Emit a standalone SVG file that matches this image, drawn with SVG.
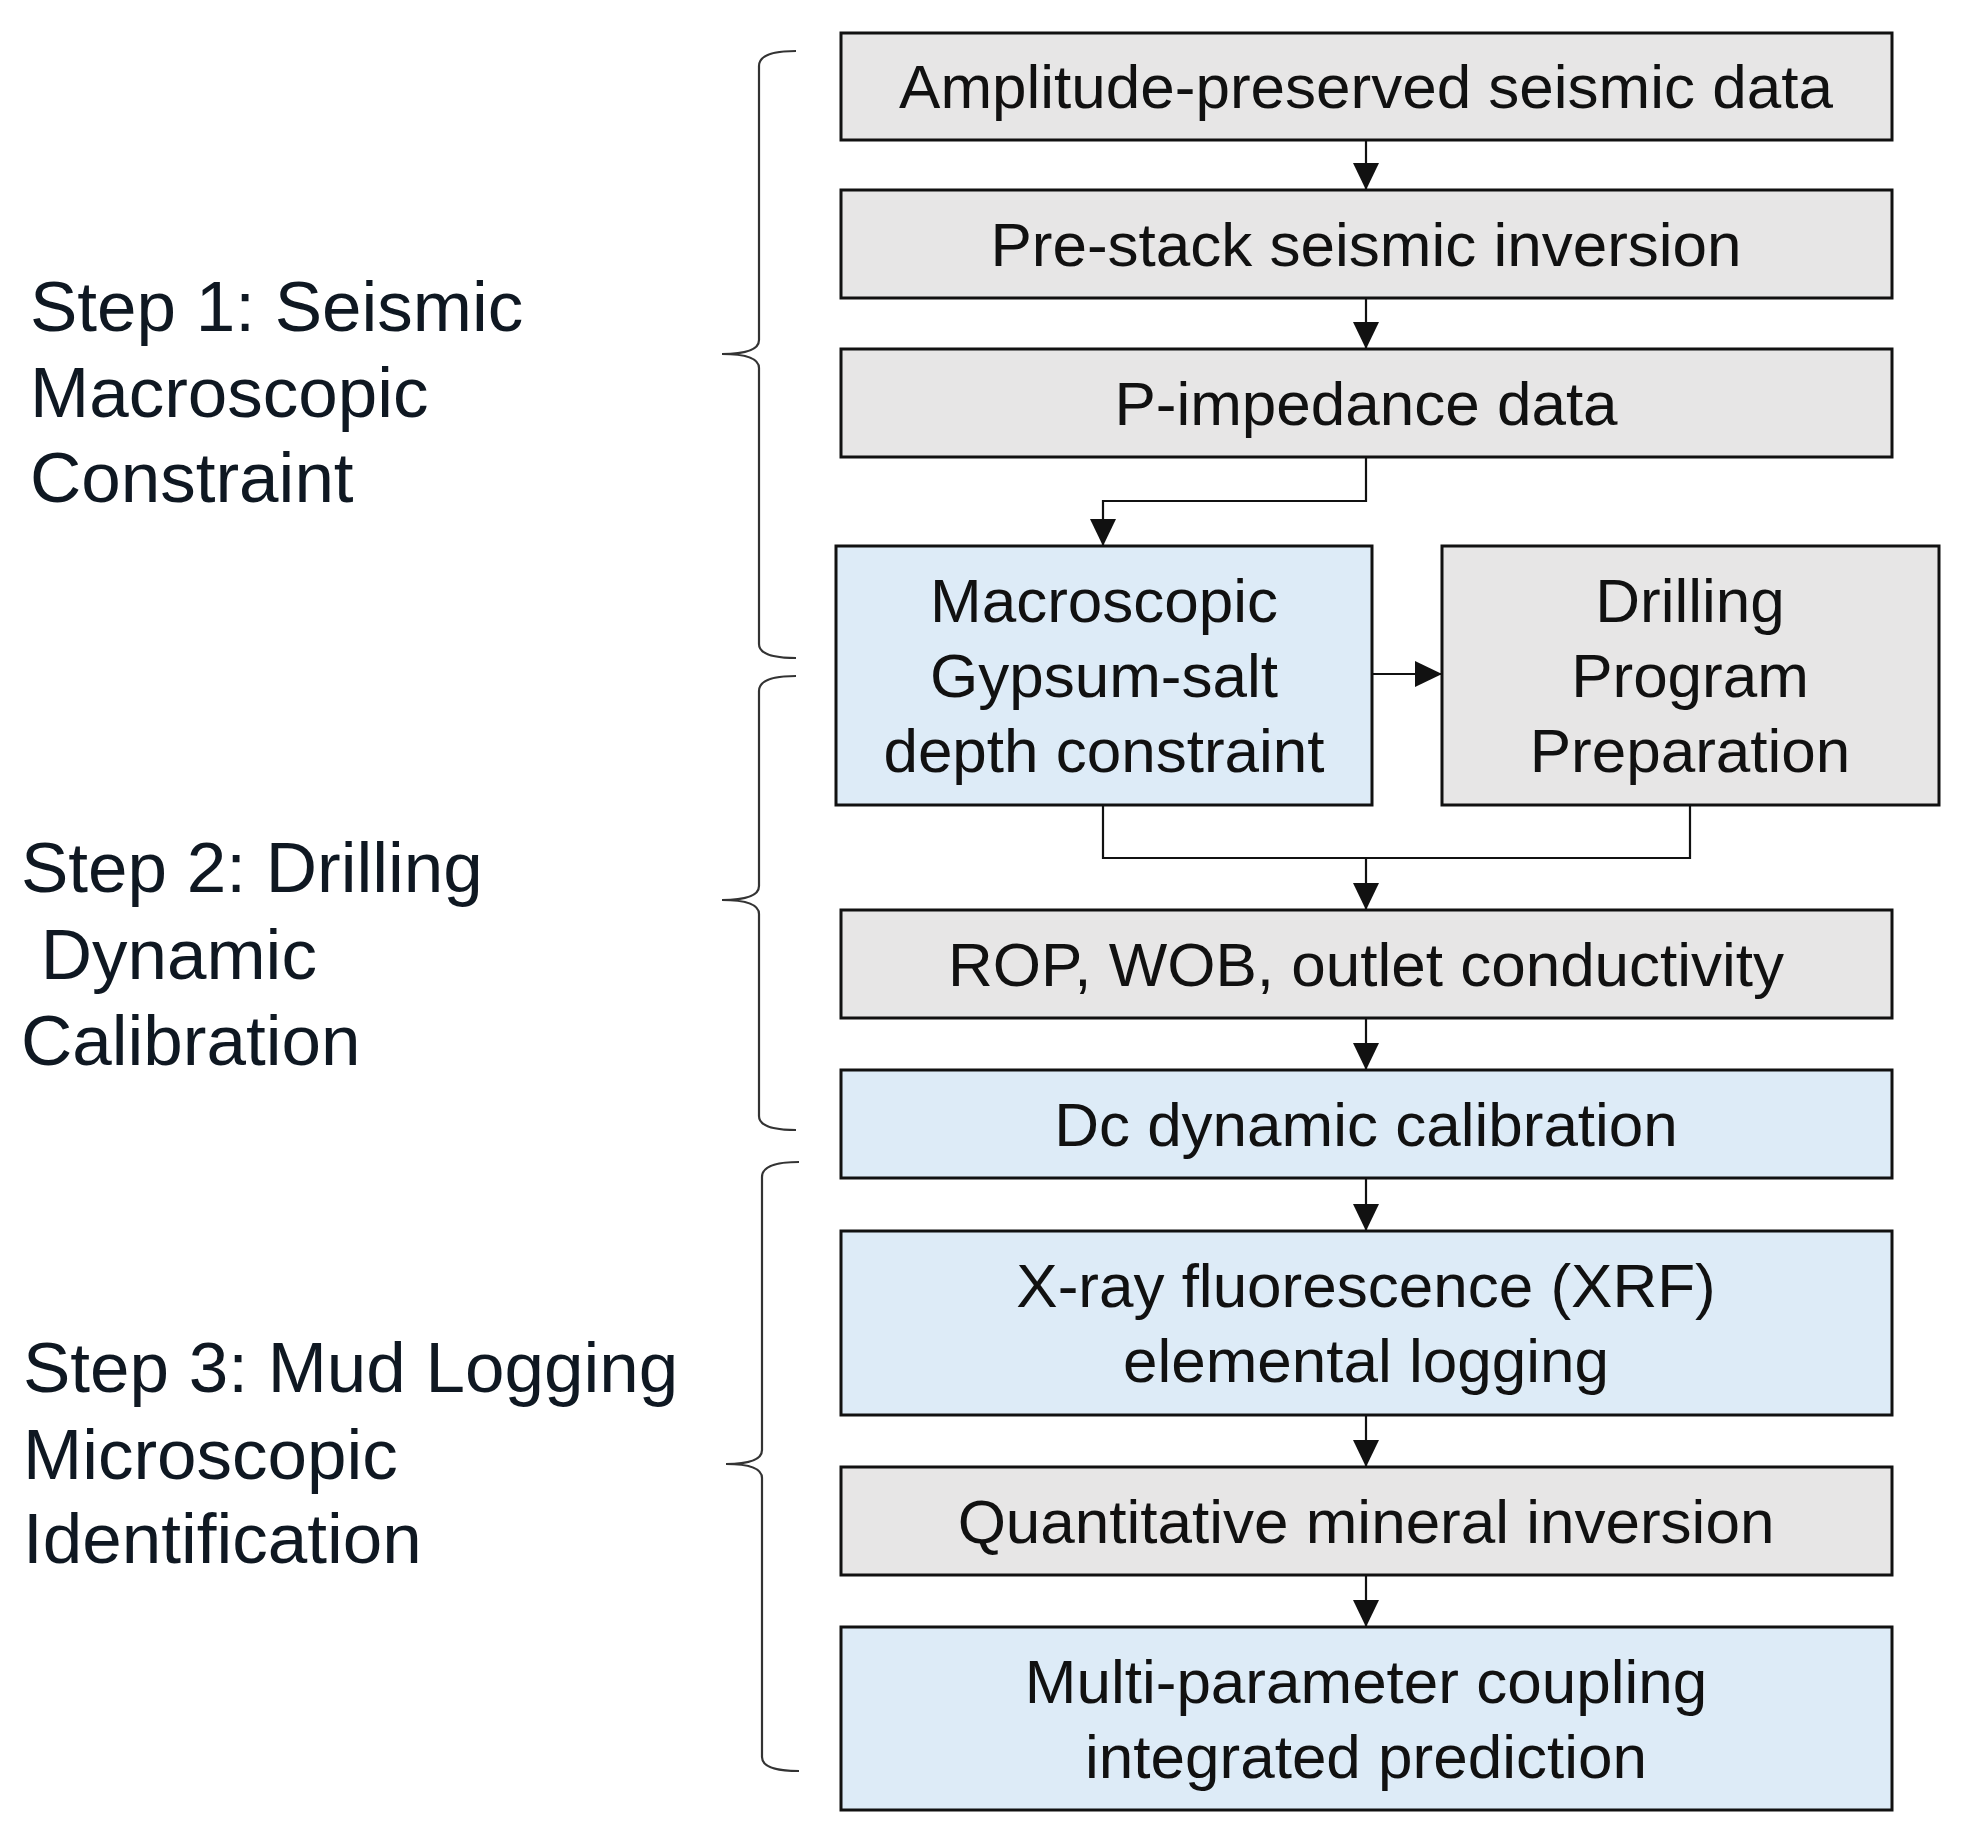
<svg xmlns="http://www.w3.org/2000/svg" width="1963" height="1843" viewBox="0 0 1963 1843">
<defs>
<style>
.box{stroke:#111;stroke-width:3}
.g{fill:#E7E6E6}
.b{fill:#DDEBF7}
.t{font-family:"Liberation Sans",Arial,sans-serif;font-size:62px;fill:#111;text-anchor:middle}
.s{font-family:"Liberation Sans",Arial,sans-serif;font-size:71px;fill:#0f1822}
.c{fill:none;stroke:#111;stroke-width:2.2}
.br{fill:none;stroke:#333;stroke-width:2.2}
</style>
<marker id="ah" markerUnits="userSpaceOnUse" markerWidth="28" markerHeight="28" refX="27" refY="13" orient="auto">
<path d="M0,0 L27,13 L0,26 z" fill="#111"/>
</marker>
</defs>
<rect width="1963" height="1843" fill="#fff"/>

<g id="labels">
<g id="step1">
<text class="s" x="30" y="331">Step 1: Seismic</text>
<text class="s" x="30" y="417">Macroscopic</text>
<text class="s" x="30" y="502">Constraint</text>
</g>
<g id="step2">
<text class="s" x="21" y="892">Step 2: Drilling</text>
<text class="s" x="21" y="979" xml:space="preserve"> Dynamic</text>
<text class="s" x="21" y="1065">Calibration</text>
</g>
<g id="step3">
<text class="s" x="23" y="1392">Step 3: Mud Logging</text>
<text class="s" x="23" y="1479">Microscopic</text>
<text class="s" x="23" y="1563">Identification</text>
</g>
</g>

<g id="braces">
<path class="br" d="M796,51 Q759,51 759,66 L759,340 Q759,354 722,354 Q759,354 759,368 L759,644 Q759,658 796,658"/>
<path class="br" d="M796,676 Q759,676 759,691 L759,886 Q759,900 722,900 Q759,900 759,914 L759,1116 Q759,1130 796,1130"/>
<path class="br" d="M799,1162 Q762,1162 762,1177 L762,1450 Q762,1464 726,1464 Q762,1464 762,1478 L762,1757 Q762,1771 799,1771"/>
</g>

<g id="connectors">
<line class="c" x1="1366" y1="140" x2="1366" y2="190" marker-end="url(#ah)"/>
<line class="c" x1="1366" y1="298" x2="1366" y2="349" marker-end="url(#ah)"/>
<path class="c" d="M1366,457 L1366,501 L1103,501 L1103,546" marker-end="url(#ah)"/>
<line class="c" x1="1372" y1="674" x2="1442" y2="674" marker-end="url(#ah)"/>
<path class="c" d="M1103,805 L1103,858 L1690,858 L1690,805"/>
<line class="c" x1="1366" y1="858" x2="1366" y2="910" marker-end="url(#ah)"/>
<line class="c" x1="1366" y1="1018" x2="1366" y2="1070" marker-end="url(#ah)"/>
<line class="c" x1="1366" y1="1178" x2="1366" y2="1231" marker-end="url(#ah)"/>
<line class="c" x1="1366" y1="1415" x2="1366" y2="1467" marker-end="url(#ah)"/>
<line class="c" x1="1366" y1="1575" x2="1366" y2="1627" marker-end="url(#ah)"/>
</g>

<g id="n1"><rect class="box g" x="841" y="33" width="1051" height="107"/><text class="t" x="1366" y="108">Amplitude-preserved seismic data</text></g>
<g id="n2"><rect class="box g" x="841" y="190" width="1051" height="108"/><text class="t" x="1366" y="266">Pre-stack seismic inversion</text></g>
<g id="n3"><rect class="box g" x="841" y="349" width="1051" height="108"/><text class="t" x="1366" y="425">P-impedance data</text></g>
<g id="n4"><rect class="box b" x="836" y="546" width="536" height="259"/>
<text class="t" x="1104" y="622">Macroscopic</text>
<text class="t" x="1104" y="697">Gypsum-salt</text>
<text class="t" x="1104" y="772">depth constraint</text></g>
<g id="n5"><rect class="box g" x="1442" y="546" width="497" height="259"/>
<text class="t" x="1690" y="622">Drilling</text>
<text class="t" x="1690" y="697">Program</text>
<text class="t" x="1690" y="772">Preparation</text></g>
<g id="n6"><rect class="box g" x="841" y="910" width="1051" height="108"/><text class="t" x="1366" y="986">ROP, WOB, outlet conductivity</text></g>
<g id="n7"><rect class="box b" x="841" y="1070" width="1051" height="108"/><text class="t" x="1366" y="1146">Dc dynamic calibration</text></g>
<g id="n8"><rect class="box b" x="841" y="1231" width="1051" height="184"/>
<text class="t" x="1366" y="1307">X-ray fluorescence (XRF)</text>
<text class="t" x="1366" y="1382">elemental logging</text></g>
<g id="n9"><rect class="box g" x="841" y="1467" width="1051" height="108"/><text class="t" x="1366" y="1543">Quantitative mineral inversion</text></g>
<g id="n10"><rect class="box b" x="841" y="1627" width="1051" height="183"/>
<text class="t" x="1366" y="1703">Multi-parameter coupling</text>
<text class="t" x="1366" y="1778">integrated prediction</text></g>
</svg>
